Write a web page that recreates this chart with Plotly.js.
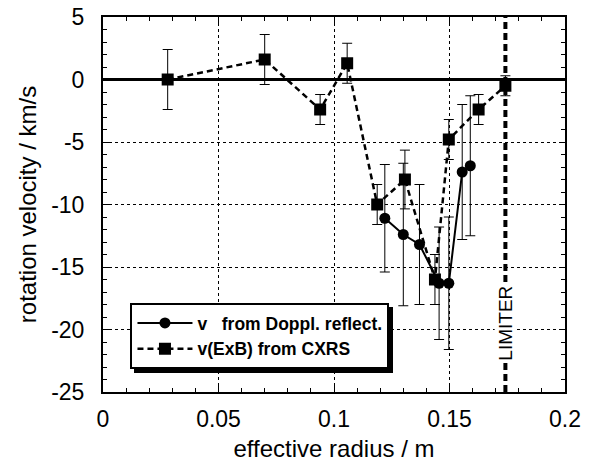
<!DOCTYPE html>
<html>
<head>
<meta charset="utf-8">
<script src="https://cdn.plot.ly/plotly-3.0.1.min.js"></script>
<style>
html,body{margin:0;padding:0;background:#fff;}
#chart{width:592px;height:472px;}
#chart .legend .bg{filter: drop-shadow(4px 4px 0px #000);}
</style>
</head>
<body>
<div id="chart"></div>
<script>
// Doppler reflectometry rotation velocity
const doppR   = [0.122, 0.130, 0.137, 0.1455, 0.1497, 0.1555, 0.159];
const doppV   = [-11.1, -12.4, -13.2, -16.3, -16.3, -7.4, -6.9];
const doppErr = [4.3, 5.7, 4.8, 4.5, 5.3, 5.4, 5.6];

// ExB velocity from CXRS
const cxrsR   = [0.028, 0.070, 0.094, 0.1057, 0.1187, 0.1307, 0.1437, 0.1497, 0.1626, 0.1742];
const cxrsV   = [0.0, 1.6, -2.4, 1.3, -10.0, -8.0, -16.0, -4.8, -2.4, -0.5];
const cxrsErr = [2.4, 2.0, 1.2, 1.6, 1.6, 2.35, 2.0, 1.6, 1.2, 0.8];

// limiter position
const limiterR = 0.1742;
const limiterLabel = "LIMITER";
const limiterLabelV = -19.5;

const xTicks = [0, 0.05, 0.1, 0.15, 0.2];
const xTickText = ["0", "0.05", "0.1", "0.15", "0.2"];
const yTicks = [5, 0, -5, -10, -15, -20, -25];
const yTickText = ["5", "0", "-5", "-10", "-15", "-20", "-25"];
const xRange = [0, 0.2];
const yRange = [-25, 5];

const FONT = "Liberation Sans, Arial, Helvetica, sans-serif";
const nb = "\u00a0";

const traces = [
  {
    x: doppR, y: doppV, type: "scatter", mode: "lines+markers",
    name: "v" + nb + nb + nb + "from Doppl. reflect.",
    line: {color: "#000", width: 2},
    marker: {symbol: "circle", size: 11, color: "#000"},
    error_y: {type: "data", array: doppErr, visible: true, color: "#000", thickness: 1, width: 5}
  },
  {
    x: cxrsR, y: cxrsV, type: "scatter", mode: "lines+markers",
    name: "v(ExB) from CXRS",
    line: {color: "#000", width: 2.5, dash: "6px,4px"},
    marker: {symbol: "square", size: 12, color: "#000"},
    error_y: {type: "data", array: cxrsErr, visible: true, color: "#000", thickness: 1, width: 5}
  },
  {
    x: [limiterR, limiterR], y: yRange, type: "scatter", mode: "lines",
    showlegend: false, hoverinfo: "skip",
    line: {color: "#000", width: 4, dash: "7px,4px"}
  }
];

const L = 102.5, R = 565, T = 17, B = 392;
const W = 592, H = 472;
const pw = R - L, ph = B - T;
function px2paperX(p){ return (p - L) / pw; }
function px2paperY(p){ return (B - p) / ph; }

const layout = {
  width: W, height: H,
  margin: {l: L, r: W - R, t: T, b: H - B},
  paper_bgcolor: "#fff", plot_bgcolor: "#fff",
  font: {family: FONT, color: "#000", size: 22},
  showlegend: true,
  xaxis: {
    range: xRange, tickvals: xTicks, ticktext: xTickText,
    showline: true, linecolor: "#000", linewidth: 2, mirror: "allticks",
    ticks: "inside", ticklen: 6, tickcolor: "#000", tickwidth: 1,
    showgrid: true, gridcolor: "#000", gridwidth: 1, griddash: "dot",
    zeroline: false,
    minor: {dtick: 0.01, ticks: "inside", ticklen: 4, tickcolor: "#000", tickwidth: 1, showgrid: false},
    tickfont: {size: 23, family: FONT},
    ticklabelstandoff: 5,
    title: {text: "effective radius / m", font: {size: 24, family: FONT}, standoff: 10}
  },
  yaxis: {
    range: yRange, tickvals: yTicks, ticktext: yTickText,
    showline: true, linecolor: "#000", linewidth: 2, mirror: "allticks",
    ticks: "inside", ticklen: 6, tickcolor: "#000", tickwidth: 1,
    showgrid: true, gridcolor: "#000", gridwidth: 1, griddash: "dot",
    zeroline: true, zerolinecolor: "#000", zerolinewidth: 3.5,
    minor: {dtick: 1, ticks: "inside", ticklen: 4, tickcolor: "#000", tickwidth: 1, showgrid: false},
    tickfont: {size: 23, family: FONT},
    ticklabelstandoff: 12,
    title: {text: "rotation velocity / km/s", font: {size: 24, family: FONT}, standoff: 8}
  },
  legend: {
    x: px2paperX(130), y: px2paperY(303), xanchor: "left", yanchor: "top",
    bgcolor: "#fff", bordercolor: "#000", borderwidth: 2,
    font: {family: FONT, size: 17.5, weight: "bold", color: "#000"},
    itemwidth: 55, tracegroupgap: 0
  },
  annotations: [
    {x: limiterR, y: limiterLabelV, xref: "x", yref: "y", text: limiterLabel, showarrow: false,
     textangle: -90, bgcolor: "#fff", font: {family: FONT, size: 19, color: "#000"}, borderpad: 0}
  ]
};

Plotly.newPlot("chart", traces, layout, {displayModeBar: false, staticPlot: true});
</script>
</body>
</html>
